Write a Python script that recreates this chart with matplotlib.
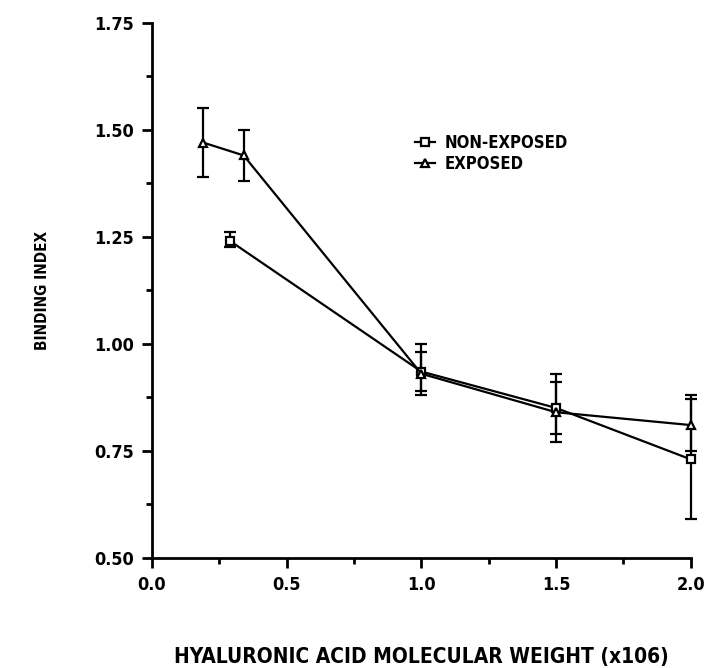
import matplotlib
matplotlib.use('Agg')
import matplotlib.pyplot as plt
from matplotlib.lines import Line2D
from matplotlib.ticker import MultipleLocator

# hyaluronic acid MW (x10^6) and binding index
x_non = [0.29, 1.0, 1.5, 2.0]
y_non = [1.24, 0.935, 0.85, 0.73]
lo_non = [0.015, 0.045, 0.06, 0.14]
hi_non = [0.02, 0.045, 0.08, 0.14]

x_exp = [0.19, 0.34, 1.0, 1.5, 2.0]
y_exp = [1.47, 1.44, 0.93, 0.84, 0.81]
lo_exp = [0.08, 0.06, 0.05, 0.07, 0.06]
hi_exp = [0.08, 0.06, 0.07, 0.07, 0.07]

font = dict(family='DejaVu Sans', weight='bold', stretch='condensed')

fig = plt.figure(figsize=(7.07, 6.68), dpi=100)
ax = fig.add_axes([0.215, 0.165, 0.762, 0.801])

style = dict(color='black', lw=1.6, ms=6, mfc='white', mec='black', mew=1.6,
             capsize=4, capthick=1.6, elinewidth=1.6)
c1 = ax.errorbar(x_non, y_non, yerr=[lo_non, hi_non], marker='s', **style)
c2 = ax.errorbar(x_exp, y_exp, yerr=[lo_exp, hi_exp], marker='^', **style)
for c in (c1, c2):
    for artist in c.get_children():
        artist.set_clip_on(False)

ax.set_xlim(0, 2.0)
ax.set_ylim(0.5, 1.75)
ax.xaxis.set_major_locator(MultipleLocator(0.5))
ax.xaxis.set_minor_locator(MultipleLocator(0.25))
ax.yaxis.set_major_locator(MultipleLocator(0.25))
ax.yaxis.set_minor_locator(MultipleLocator(0.125))

for s in ['top', 'right']:
    ax.spines[s].set_visible(False)
for s in ['left', 'bottom']:
    ax.spines[s].set_linewidth(2)

ax.tick_params(which='major', direction='out', length=7, width=2, pad=6)
ax.tick_params(which='minor', direction='out', length=4, width=2)

ax.set_xticklabels([f'{v:.1f}' for v in ax.get_xticks()], fontsize=13, **font)
ax.set_yticklabels([f'{v:.2f}' for v in ax.get_yticks()], fontsize=13, **font)

ax.set_xlabel('HYALURONIC ACID MOLECULAR WEIGHT (x106)', fontsize=15,
              labelpad=38, **font)
ax.set_ylabel('BINDING INDEX', fontsize=11, labelpad=32, **font)

handles = [Line2D([], [], color='black', lw=1.6, marker='s', ms=6, mfc='white', mew=1.6),
           Line2D([], [], color='black', lw=1.6, marker='^', ms=6, mfc='white', mew=1.6)]
ax.legend(handles, ['NON-EXPOSED', 'EXPOSED'], loc='upper left',
          bbox_to_anchor=(0.46, 0.82), frameon=False, handlelength=1.2,
          handletextpad=0.6, labelspacing=0.15, prop=dict(size=12, **font))

fig.savefig('out.png', dpi=100)
